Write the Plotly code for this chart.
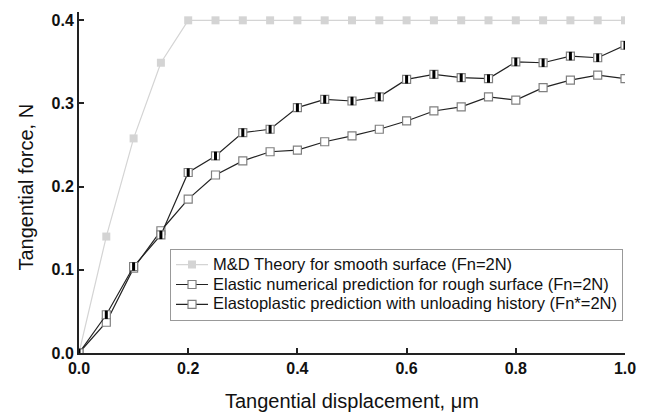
import plotly.graph_objects as go

displacement = [0.0, 0.05, 0.10, 0.15, 0.20, 0.25, 0.30, 0.35, 0.40, 0.45, 0.50,
                0.55, 0.60, 0.65, 0.70, 0.75, 0.80, 0.85, 0.90, 0.95, 1.00]
md_theory = [0.0, 0.140, 0.258, 0.349, 0.400, 0.400, 0.400, 0.400, 0.400, 0.400, 0.400,
             0.400, 0.400, 0.400, 0.400, 0.400, 0.400, 0.400, 0.400, 0.400, 0.400]
elastic = [0.0, 0.037, 0.102, 0.147, 0.185, 0.214, 0.231, 0.242, 0.244, 0.254, 0.261,
           0.269, 0.279, 0.291, 0.296, 0.308, 0.304, 0.319, 0.328, 0.334, 0.330]
elastoplastic = [0.0, 0.046, 0.104, 0.142, 0.217, 0.237, 0.265, 0.269, 0.295, 0.305, 0.303,
                 0.308, 0.329, 0.335, 0.331, 0.330, 0.350, 0.349, 0.357, 0.355, 0.370]

names = ["M&D Theory for smooth surface (Fn=2N)",
         "Elastic numerical prediction for rough surface (Fn=2N)",
         "Elastoplastic prediction with unloading history (Fn*=2N)"]
x_ticks = [0.0, 0.2, 0.4, 0.6, 0.8, 1.0]
y_ticks = [0.0, 0.1, 0.2, 0.3, 0.4]
x_title = "Tangential displacement, μm"
y_title = "Tangential force, N"


def legend_label(s):
    return f"<span style='font-size:16.5px'>{s}</span>"


fig = go.Figure()
fig.add_trace(go.Scatter(
    x=displacement, y=md_theory, name=legend_label(names[0]), mode="lines+markers",
    line=dict(color="#d4d4d4", width=1.2),
    marker=dict(symbol="square", size=8, color="#d4d4d4", line=dict(width=0)),
))
fig.add_trace(go.Scatter(
    x=displacement, y=elastic, name=legend_label(names[1]), mode="lines+markers",
    line=dict(color="#222222", width=1.2),
    marker=dict(symbol="square", size=8, color="white",
                line=dict(color="#808080", width=1.2)),
))
fig.add_trace(go.Scatter(
    x=displacement, y=elastoplastic, name=legend_label(names[2]), mode="lines+markers",
    legendgroup="ep",
    line=dict(color="#222222", width=1.2),
    marker=dict(symbol="square", size=8, color="white",
                line=dict(color="#808080", width=1.2)),
))
fig.add_trace(go.Scatter(
    x=displacement, y=elastoplastic, mode="markers", showlegend=False,
    legendgroup="ep", hoverinfo="skip",
    marker=dict(symbol="line-ns", size=6, color="black",
                line=dict(color="black", width=3)),
))

# the page body adds an 8px offset, so the figure is 640x406 with compensated margins
tick_font = dict(family="Liberation Sans, Arial, sans-serif", size=16, color="#111111")
fig.update_layout(
    width=640, height=406,
    margin=dict(l=71, r=23, t=4, b=61, autoexpand=False),
    paper_bgcolor="white", plot_bgcolor="white",
    font=dict(family="Liberation Sans, Arial, sans-serif", color="#111111"),
    showlegend=True,
    legend=dict(x=0.1667, y=0.306, xanchor="left", yanchor="top",
                bordercolor="#999999", borderwidth=1, bgcolor="white",
                font=dict(size=13, color="#111111"),
                tracegroupgap=0, itemwidth=32),
    xaxis=dict(range=[0, 1.0], tickvals=x_ticks,
               ticktext=[f"<b>{v:.1f}</b>" for v in x_ticks],
               showgrid=False, zeroline=False, showline=True,
               linecolor="#222222", linewidth=2,
               ticks="inside", ticklen=5, tickwidth=1.5, tickcolor="#222222",
               tickfont=tick_font, automargin=False),
    yaxis=dict(range=[0, 0.41], tickvals=y_ticks,
               ticktext=[f"<b>{v:.1f}</b>" for v in y_ticks],
               showgrid=False, zeroline=False, showline=True,
               linecolor="#222222", linewidth=2,
               ticks="inside", ticklen=5, tickwidth=1.5, tickcolor="#222222",
               tickfont=tick_font, automargin=False),
    annotations=[
        dict(text=x_title, xref="paper", yref="paper", x=0.5, y=0,
             xanchor="center", yanchor="top", yshift=-35, showarrow=False,
             font=dict(size=20, color="#111111")),
        dict(text=y_title, xref="paper", yref="paper", x=0, y=0.485,
             xanchor="right", yanchor="middle", xshift=-40, textangle=-90,
             showarrow=False, font=dict(size=20, color="#111111")),
    ],
)
fig.write_html("out.html")
